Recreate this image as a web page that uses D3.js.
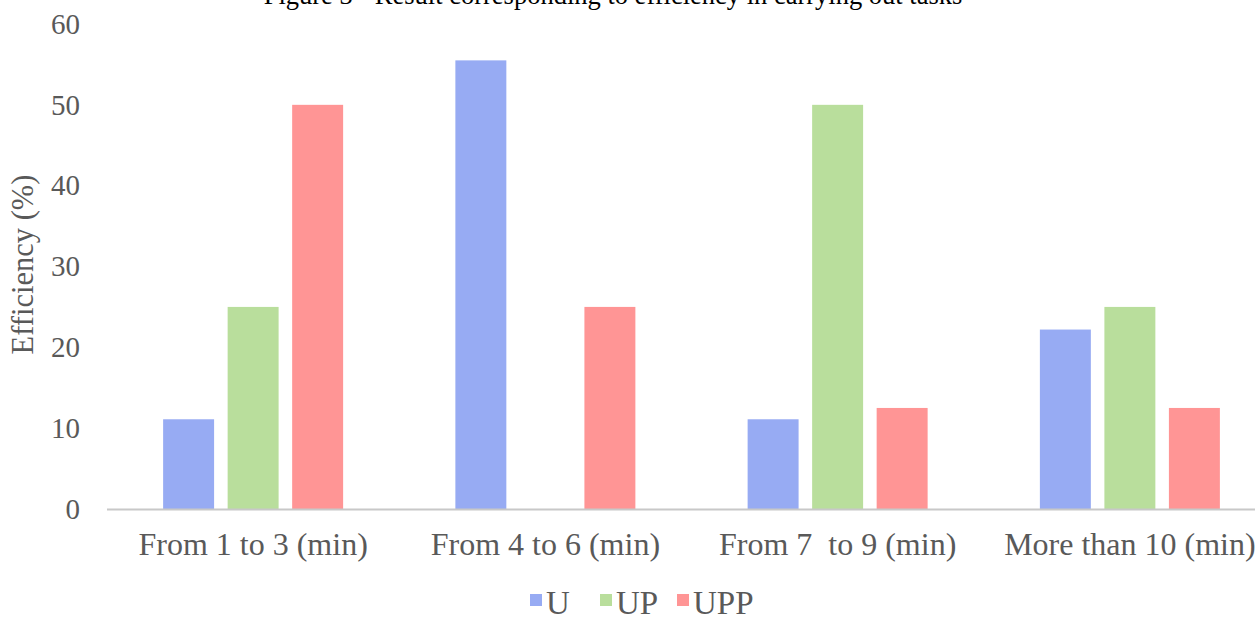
<!DOCTYPE html>
<html>
<head>
<meta charset="utf-8">
<script src="https://cdn.jsdelivr.net/npm/d3@7"></script>
<style>
  html, body { margin: 0; padding: 0; background: #fff; }
  svg { display: block; }
  text { font-family: "Liberation Serif", "Times New Roman", serif; }
</style>
</head>
<body>
<svg id="chart" width="1255" height="617"></svg>
<script>
const title = "Figure 3 - Result corresponding to efficiency in carrying out tasks";
const yTitle = "Efficiency (%)";
const categories = ["From 1 to 3 (min)", "From 4 to 6 (min)", "From 7  to 9 (min)", "More than 10 (min)"];
const series = ["U", "UP", "UPP"];
const valuesU = [11.1, 55.5, 11.1, 22.2];
const valuesUP = [25, 0, 50, 25];
const valuesUPP = [50, 25, 12.5, 12.5];
const yTicks = [0, 10, 20, 30, 40, 50, 60];
const colors = ["#97abf3", "#b9de9c", "#ff9595"];

const seriesValues = [valuesU, valuesUP, valuesUPP];
const data = categories.map((c, i) => ({
  category: c,
  values: series.map((s, j) => ({ key: s, value: seriesValues[j][i] }))
}));

const svg = d3.select("#chart");
const textColor = "#595959";

const x0 = d3.scaleBand().domain(categories).range([107, 1276]).padding(0);
const groupWidth = 180;
const x1 = d3.scaleBand().domain(series).range([0, groupWidth]).paddingInner(0.21).paddingOuter(0);
const y = d3.scaleLinear().domain([0, 60]).range([509, 24]);
const color = d3.scaleOrdinal().domain(series).range(colors);
const groupOffset = (x0.bandwidth() - groupWidth) / 2;

// title (cut off at top as in reference)
svg.append("text")
  .attr("x", 613).attr("y", 4)
  .attr("text-anchor", "middle")
  .attr("fill", "#000")
  .style("font-size", "26.5px")
  .text(title);

// bars
const groups = svg.append("g").selectAll("g")
  .data(data).join("g")
  .attr("transform", d => `translate(${x0(d.category) + groupOffset},0)`);

groups.selectAll("rect")
  .data(d => d.values.filter(v => v.value > 0))
  .join("rect")
  .attr("x", d => x1(d.key))
  .attr("y", d => y(d.value))
  .attr("width", x1.bandwidth())
  .attr("height", d => y(0) - y(d.value))
  .attr("fill", d => color(d.key));

// x axis
const xAxis = svg.append("g")
  .attr("transform", `translate(0,${y(0)})`)
  .call(d3.axisBottom(x0).tickSize(0).tickPadding(23));
xAxis.select(".domain").remove();
xAxis.append("line")
  .attr("x1", 107).attr("x2", 1255)
  .attr("y1", 0.5).attr("y2", 0.5)
  .attr("stroke", "#c8c8c8").attr("stroke-width", 2);
xAxis.selectAll(".tick text")
  .attr("fill", textColor)
  .style("font-size", "32px")
  .style("font-family", '"Liberation Serif", serif')
  .style("white-space", "pre");

// y axis
const yAxis = svg.append("g")
  .attr("transform", "translate(107,0)")
  .call(d3.axisLeft(y).tickValues(yTicks).tickSize(0).tickPadding(27));
yAxis.select(".domain").remove();
yAxis.selectAll(".tick text")
  .attr("fill", textColor)
  .style("font-size", "29px")
  .style("font-family", '"Liberation Serif", serif');

// y title
svg.append("text")
  .attr("transform", `translate(33,${(y(0) + y(60)) / 2 - 2}) rotate(-90)`)
  .attr("text-anchor", "middle")
  .attr("fill", textColor)
  .style("font-size", "30.5px")
  .text(yTitle);

// legend
const legendX = [530, 600, 677];
const legend = svg.append("g");
series.forEach((s, i) => {
  const g = legend.append("g").attr("transform", `translate(${legendX[i]},0)`);
  g.append("rect").attr("x", 0).attr("y", 594).attr("width", 12).attr("height", 12).attr("fill", color(s));
  g.append("text").attr("x", 16).attr("y", 614)
    .attr("fill", textColor).style("font-size", "33px").text(s);
});
</script>
</body>
</html>
